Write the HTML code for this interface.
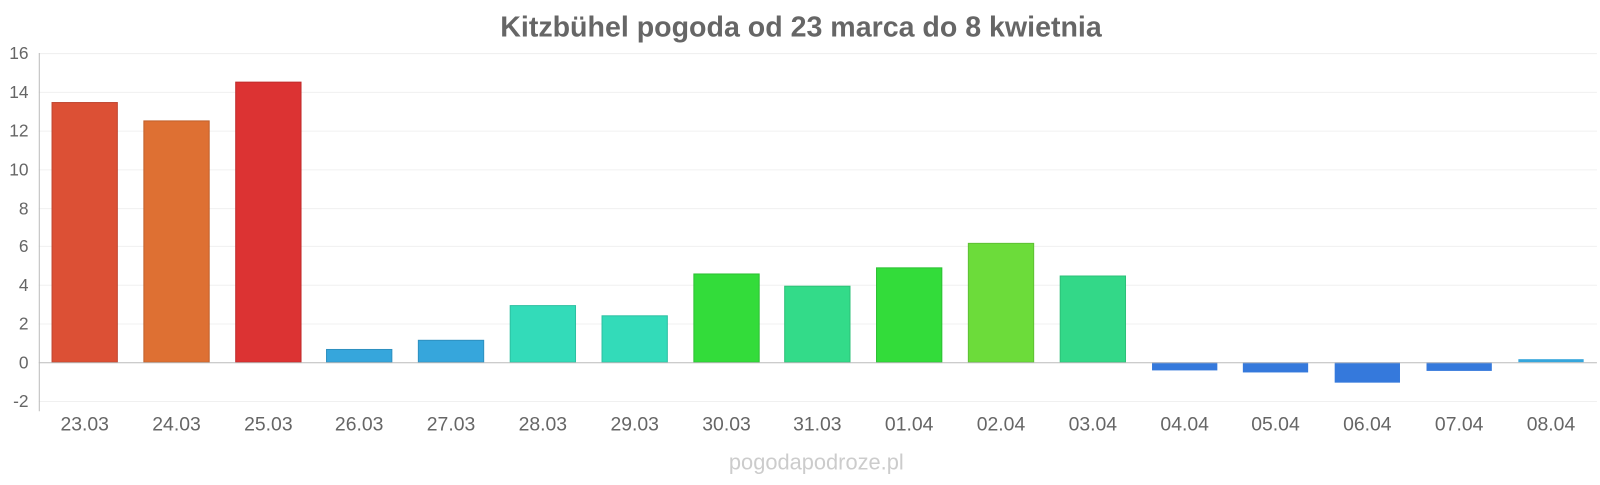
<!DOCTYPE html>
<html><head><meta charset="utf-8"><style>
body{margin:0;background:#fff;}
svg text{font-family:"Liberation Sans",sans-serif;}
</style></head><body>
<svg width="1600" height="480" xmlns="http://www.w3.org/2000/svg">
<rect width="1600" height="480" fill="#fff"/>
<g transform="scale(1.0204)">
<text x="785" y="36" text-anchor="middle" font-size="28" font-weight="bold" fill="#666">Kitzbühel pogoda od 23 marca do 8 kwietnia</text>
<g stroke="#f0f0f0" stroke-width="1">
<line x1="38" x2="1565" y1="52.5" y2="52.5"/>
<line x1="38" x2="1565" y1="90.5" y2="90.5"/>
<line x1="38" x2="1565" y1="128.5" y2="128.5"/>
<line x1="38" x2="1565" y1="166.5" y2="166.5"/>
<line x1="38" x2="1565" y1="204.5" y2="204.5"/>
<line x1="38" x2="1565" y1="241.5" y2="241.5"/>
<line x1="38" x2="1565" y1="279.5" y2="279.5"/>
<line x1="38" x2="1565" y1="317.5" y2="317.5"/>
<line x1="38" x2="1565" y1="393.5" y2="393.5"/>
</g>
<g font-size="17" fill="#666" text-anchor="end">
<text x="28" y="58">16</text><text x="28" y="96">14</text><text x="28" y="134">12</text>
<text x="28" y="172">10</text><text x="28" y="210">8</text><text x="28" y="247">6</text>
<text x="28" y="285">4</text><text x="28" y="323">2</text><text x="28" y="361">0</text>
<text x="28" y="399">-2</text>
</g>
<g stroke-width="1">
<rect x="51" y="100.5" width="64" height="254.5" fill="#dc5035" stroke="#c04530"/>
<rect x="141" y="118.5" width="64" height="236.5" fill="#de7033" stroke="#c0602b"/>
<rect x="231" y="80.5" width="64" height="274.5" fill="#dc3333" stroke="#c02b2b"/>
<rect x="320" y="342.5" width="64" height="12.5" fill="#36a6dc" stroke="#2e90c0"/>
<rect x="410" y="333.5" width="64" height="21.5" fill="#36a6dc" stroke="#2e90c0"/>
<rect x="500" y="299.5" width="64" height="55.5" fill="#33dbb9" stroke="#2cc0a2"/>
<rect x="590" y="309.5" width="64" height="45.5" fill="#33dbb9" stroke="#2cc0a2"/>
<rect x="680" y="268.5" width="64" height="86.5" fill="#33dc3a" stroke="#2cc033"/>
<rect x="769" y="280.5" width="64" height="74.5" fill="#33db89" stroke="#2cc078"/>
<rect x="859" y="262.5" width="64" height="92.5" fill="#33dc3a" stroke="#2cc033"/>
<rect x="949" y="238.5" width="64" height="116.5" fill="#6cdc3a" stroke="#5ec033"/>
<rect x="1039" y="270.5" width="64" height="84.5" fill="#33d888" stroke="#2cc078"/>
<rect x="1129" y="355" width="64" height="8" fill="#3579dc"/>
<rect x="1218" y="355" width="64" height="10" fill="#3579dc"/>
<rect x="1308" y="355" width="64" height="20" fill="#3579dc"/>
<rect x="1398" y="355" width="64" height="8.5" fill="#3579dc"/>
<rect x="1488" y="352" width="64" height="3" fill="#36a6dc"/>
</g>
<line x1="38" x2="1565" y1="355.5" y2="355.5" stroke="#bbb"/>
<line x1="38.5" x2="38.5" y1="52" y2="403" stroke="#bbb"/>
<g font-size="19" fill="#666" text-anchor="middle">
<text x="83" y="422">23.03</text><text x="173" y="422">24.03</text><text x="263" y="422">25.03</text>
<text x="352" y="422">26.03</text><text x="442" y="422">27.03</text><text x="532" y="422">28.03</text>
<text x="622" y="422">29.03</text><text x="712" y="422">30.03</text><text x="801" y="422">31.03</text>
<text x="891" y="422">01.04</text><text x="981" y="422">02.04</text><text x="1071" y="422">03.04</text>
<text x="1161" y="422">04.04</text><text x="1250" y="422">05.04</text><text x="1340" y="422">06.04</text>
<text x="1430" y="422">07.04</text><text x="1520" y="422">08.04</text>
</g>
<text x="800" y="460" text-anchor="middle" font-size="21.4" fill="#ccc">pogodapodroze.pl</text>
</g>
</svg>
</body></html>
